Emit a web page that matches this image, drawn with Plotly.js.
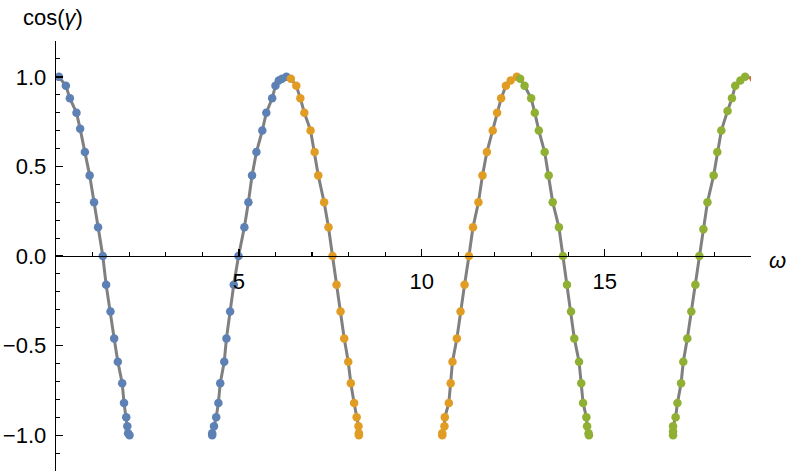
<!DOCTYPE html>
<html>
<head>
<meta charset="utf-8">
<script src="https://cdn.plot.ly/plotly-3.0.1.min.js"></script>
<style>
  html, body { margin: 0; padding: 0; background: #fff; }
  #chart { width: 789px; height: 475px; }
</style>
</head>
<body>
<div id="chart"></div>
<script>
// dots, one pair of arrays per colour (omega, cos(gamma))
const blueW = [0.08, 0.27, 0.38, 0.56, 0.66, 0.79, 0.92, 1.04, 1.15, 1.28, 1.37, 1.49, 1.59, 1.69, 1.81, 1.86, 1.92, 1.95, 1.97, 2.01,
  4.27, 4.27, 4.32, 4.38, 4.44, 4.49, 4.60, 4.66, 4.76, 4.86, 4.99, 5.15, 5.26, 5.36, 5.48, 5.64, 5.75, 5.91, 6.00, 6.09, 6.18, 6.30];
const blueC = [1.0, 0.95, 0.88, 0.80, 0.71, 0.58, 0.45, 0.30, 0.16, 0.0, -0.16, -0.31, -0.46, -0.59, -0.71, -0.82, -0.90, -0.95, -0.99, -1.0,
  -1.0, -0.99, -0.95, -0.90, -0.82, -0.71, -0.59, -0.46, -0.31, -0.16, 0.0, 0.16, 0.30, 0.45, 0.58, 0.70, 0.80, 0.88, 0.95, 0.98, 0.99, 1.0];

const orangeW = [6.42, 6.57, 6.68, 6.79, 6.96, 7.07, 7.17, 7.33, 7.45, 7.56, 7.67, 7.78, 7.88, 7.99, 8.06, 8.15, 8.22, 8.27, 8.28, 8.28,
  10.56, 10.56, 10.62, 10.63, 10.74, 10.79, 10.84, 10.96, 11.06, 11.17, 11.29, 11.40, 11.55, 11.66, 11.78, 11.94, 12.06, 12.17, 12.30, 12.43, 12.60];
const orangeC = [0.99, 0.95, 0.88, 0.80, 0.70, 0.58, 0.45, 0.30, 0.16, 0.0, -0.16, -0.31, -0.46, -0.59, -0.71, -0.82, -0.90, -0.95, -0.99, -1.0,
  -1.0, -0.99, -0.95, -0.90, -0.82, -0.71, -0.59, -0.46, -0.31, -0.16, 0.0, 0.16, 0.30, 0.45, 0.58, 0.70, 0.80, 0.88, 0.95, 0.98, 1.0];

const greenW = [12.69, 12.81, 12.99, 13.09, 13.20, 13.36, 13.47, 13.58, 13.75, 13.86, 13.97, 14.08, 14.17, 14.30, 14.36, 14.41, 14.50, 14.52, 14.56, 14.57,
  16.87, 16.87, 16.87, 16.94, 16.99, 17.09, 17.15, 17.26, 17.37, 17.48, 17.59, 17.70, 17.81, 17.98, 18.08, 18.19, 18.36, 18.48, 18.57, 18.71, 18.84];
const greenC = [0.99, 0.95, 0.88, 0.80, 0.70, 0.58, 0.45, 0.30, 0.16, 0.0, -0.16, -0.31, -0.46, -0.59, -0.71, -0.82, -0.90, -0.95, -0.99, -1.0,
  -1.0, -0.98, -0.95, -0.90, -0.82, -0.71, -0.59, -0.46, -0.31, -0.16, 0.0, 0.15, 0.30, 0.45, 0.58, 0.70, 0.81, 0.88, 0.95, 0.98, 1.0];

const redW = [19.08];
const redC = [0.99];

const xTicks = [5, 10, 15];
const yTicks = [-1, -0.5, 0, 0.5, 1];

const colors = { blue: '#5E81B5', orange: '#E19C24', green: '#8FB032', red: '#EB6235' };

// grey curve runs through all the dots, broken where omega jumps
function curveThrough(ws, cs) {
  const x = [], y = [];
  ws.forEach((w, i) => {
    if (x.length && w - x[x.length - 1] > 1) { x.push(null); y.push(null); }
    x.push(w); y.push(cs[i]);
  });
  return { x, y };
}
const curve = curveThrough(
  [...blueW, ...orangeW, ...greenW, ...redW],
  [...blueC, ...orangeC, ...greenC, ...redC]
);

const dots = (x, y, color) => ({
  x, y, type: 'scatter', mode: 'markers',
  marker: { color, size: 8.5 },
  hoverinfo: 'skip'
});

const traces = [
  { x: curve.x, y: curve.y, type: 'scatter', mode: 'lines',
    line: { color: '#808080', width: 3 }, connectgaps: false, hoverinfo: 'skip' },
  dots(blueW, blueC, colors.blue),
  dots(orangeW, orangeC, colors.orange),
  dots(greenW, greenC, colors.green),
  dots(redW, redC, colors.red)
];

const font = { family: 'Liberation Sans, Arial, sans-serif', size: 22, color: '#000' };

const layout = {
  width: 789, height: 475,
  margin: { l: 56, r: 38, t: 41, b: 4 },
  paper_bgcolor: '#fff', plot_bgcolor: '#fff',
  showlegend: false,
  font,
  xaxis: {
    range: [0, 19.001],
    anchor: 'free', position: 0.5,
    showline: true, linecolor: '#000', linewidth: 1.3,
    showgrid: false, zeroline: false,
    tickmode: 'array', tickvals: xTicks,
    ticks: 'inside', ticklen: 7, tickwidth: 1.3, tickcolor: '#000',
    ticklabelstandoff: 5,
    minor: { dtick: 1, tick0: 0, ticks: 'inside', ticklen: 4, tickwidth: 1.1, tickcolor: '#000', showgrid: false },
    tickfont: font
  },
  yaxis: {
    range: [-1.2001, 1.2001],
    showline: true, linecolor: '#000', linewidth: 1.3,
    showgrid: false, zeroline: false,
    tickmode: 'array', tickvals: yTicks, tickformat: '.1f',
    ticks: 'inside', ticklen: 7, tickwidth: 1.3, tickcolor: '#000',
    ticklabelstandoff: 4,
    minor: { dtick: 0.1, tick0: 0, ticks: 'inside', ticklen: 4, tickwidth: 1.1, tickcolor: '#000', showgrid: false },
    tickfont: font
  },
  annotations: [
    { text: 'cos(<i>γ</i>)', xref: 'paper', yref: 'paper', x: (21 - 56) / 695, y: 1 + (41 - 18) / 430,
      xanchor: 'left', yanchor: 'middle', showarrow: false, font },
    { text: '<i>ω</i>', xref: 'paper', yref: 'paper', x: (767 - 56) / 695, y: 0.49,
      xanchor: 'left', yanchor: 'middle', showarrow: false, font }
  ]
};

Plotly.newPlot('chart', traces, layout, { displayModeBar: false, staticPlot: true });
</script>
</body>
</html>
